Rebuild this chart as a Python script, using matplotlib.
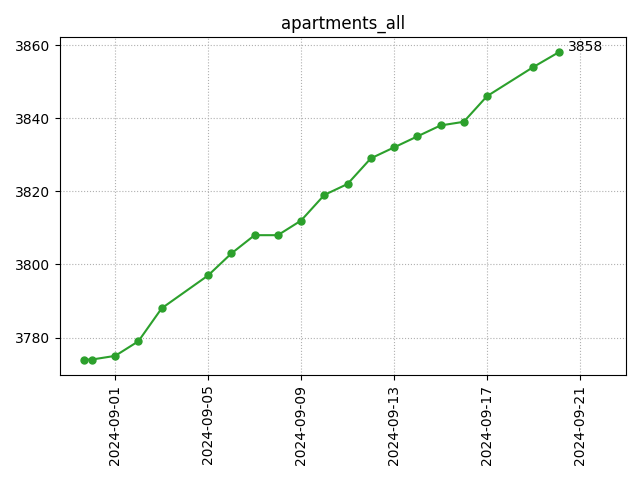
import numpy as np
import pandas as pd
import matplotlib
matplotlib.use("Agg")
import matplotlib.pyplot as plt
import matplotlib.dates as mdates

dates = pd.to_datetime([
    "2024-08-30 16:00", "2024-08-31 00:00", "2024-09-01 00:00", "2024-09-02 00:00",
    "2024-09-03 00:00", "2024-09-05 00:00", "2024-09-06 00:00", "2024-09-07 00:00",
    "2024-09-08 00:00", "2024-09-09 00:00", "2024-09-10 00:00", "2024-09-11 00:00",
    "2024-09-12 00:00", "2024-09-13 00:00", "2024-09-14 00:00", "2024-09-15 00:00",
    "2024-09-16 00:00", "2024-09-17 00:00", "2024-09-19 00:00", "2024-09-20 02:00",
])
counts = [3774, 3774, 3775, 3779, 3788, 3797, 3803, 3808, 3808, 3812,
          3819, 3822, 3829, 3832, 3835, 3838, 3839, 3846, 3854, 3858]

fig, ax = plt.subplots(figsize=(6.4, 4.8), dpi=100)
ax.plot(dates, counts, "o-", color="#2ca02c", markersize=5)
ax.annotate(str(counts[-1]), (dates[-1], counts[-1]), xytext=(7, -1),
            textcoords="offset points", va="bottom", ha="left")
ax.set_title("apartments_all")
ax.grid(True, linestyle=":")
ax.xaxis.set_major_locator(mdates.DayLocator(bymonthday=[1, 5, 9, 13, 17, 21]))
ax.xaxis.set_major_formatter(mdates.DateFormatter("%Y-%m-%d"))
ax.set_xlim(pd.Timestamp("2024-08-29 15:10"), pd.Timestamp("2024-09-22 23:30"))
plt.xticks(rotation=90)
plt.subplots_adjust(left=0.094, right=0.978, top=0.923, bottom=0.219)
plt.savefig("out.png")
